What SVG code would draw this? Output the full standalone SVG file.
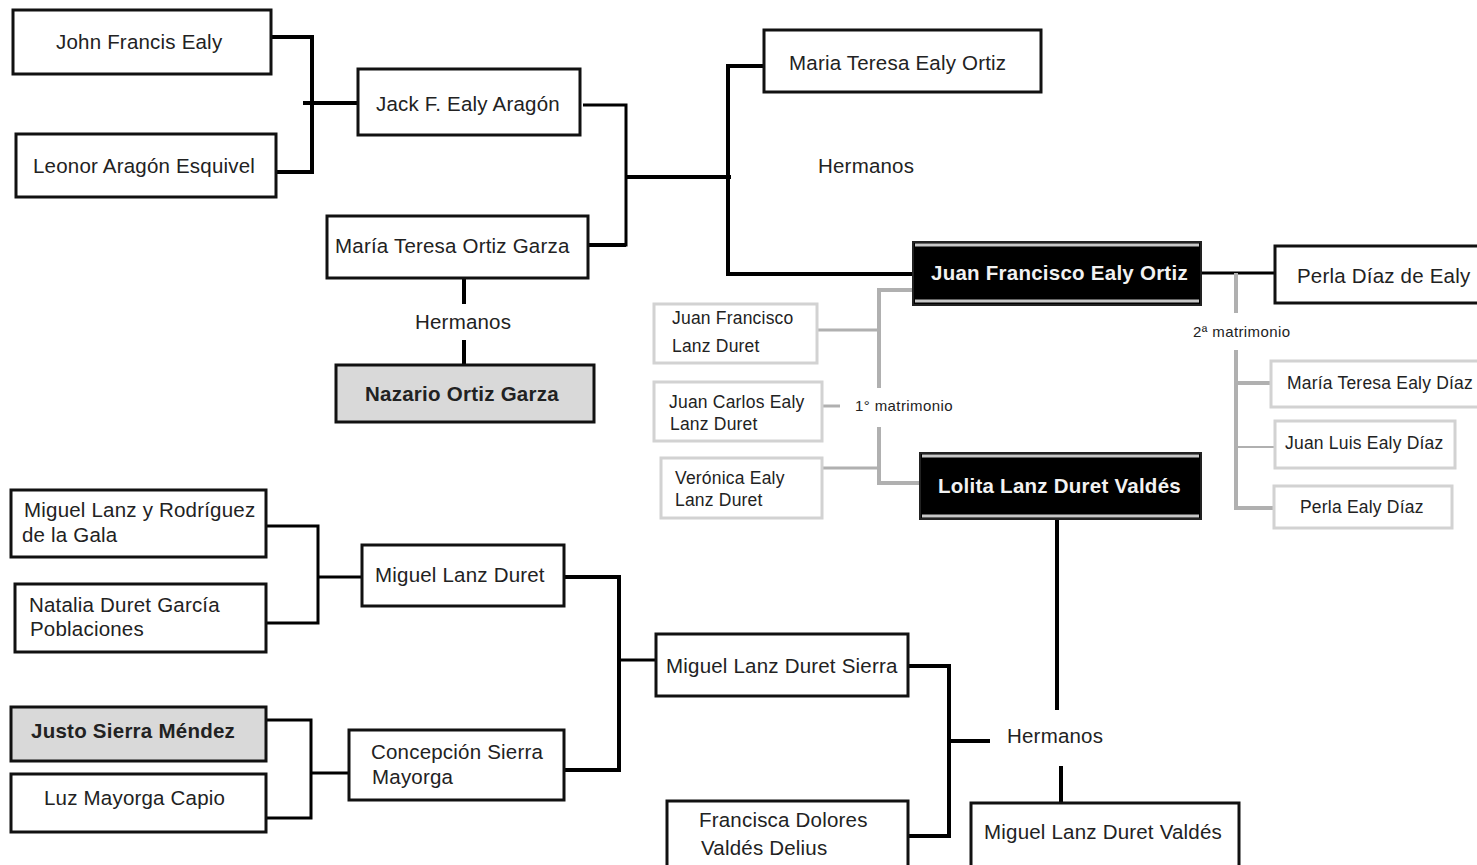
<svg xmlns="http://www.w3.org/2000/svg" width="1477" height="865" viewBox="0 0 1477 865">
<style>
.b{fill:#fff;stroke:#111;stroke-width:3}
.g{fill:#fff;stroke:#d2d2d2;stroke-width:3}
.s{fill:#d9d9d9;stroke:#111;stroke-width:3}
.k{fill:#000;stroke:#222;stroke-width:2}
.hl{stroke:#c8c8c8;stroke-width:3}
text{font-family:"Liberation Sans",Arial,sans-serif;fill:#222}
.t{font-size:20.5px;letter-spacing:0.2px}
.m{font-size:17.5px;letter-spacing:0.2px}
.sm{font-size:15px;letter-spacing:0.4px}
.bd{font-size:20.5px;font-weight:bold;letter-spacing:0.25px}
.w{font-size:20.5px;font-weight:bold;fill:#f2f2f2;letter-spacing:0.25px}
.c{fill:none;stroke:#000;stroke-width:3}
.c4{fill:none;stroke:#000;stroke-width:4}
.cg{fill:none;stroke:#b0b0b0;stroke-width:4}
.cg3{fill:none;stroke:#b0b0b0;stroke-width:3}
</style>
<g id="connectors">
<path class="c4" d="M271,37 H312 V172 H276"/>
<path class="c4" d="M303,103 H358"/>
<path class="c" d="M583,105 H626 V245 H588"/>
<path class="c4" d="M626,245 H588"/>
<path class="c4" d="M626,177 H731"/>
<path class="c4" d="M764,66 H728 V274 H912"/>
<path class="c" d="M1202,273 H1275"/>
<path class="c4" d="M464,278 V304 M464,340 V364"/>
<path class="c" d="M266,526 H318 V623 H266"/>
<path class="c" d="M318,577 H362"/>
<path class="c" d="M266,720 H311 V818 H266"/>
<path class="c" d="M311,773 H349"/>
<path class="c4" d="M564,577 H619 V770 H564"/>
<path class="c" d="M619,660 H656"/>
<path class="c4" d="M908,666 H949 V836 H908"/>
<path class="c4" d="M949,741 H990"/>
<path class="c4" d="M1057,520 V710 M1061,766 V802"/>
<path class="cg" d="M912,290 H879 V388"/>
<path class="cg" d="M879,427 V483 H919"/>
<path class="cg3" d="M817,330 H879"/>
<path class="cg3" d="M822,406 H840"/>
<path class="cg3" d="M822,468 H879"/>
<path class="cg" d="M1236,273 V313 M1236,350 V508 H1274"/>
<path class="cg" d="M1236,383 H1271"/>
<path class="cg3" d="M1236,447 H1275" style="stroke-width:2"/>
</g>
<g id="n-john"><rect class="b" x="13" y="10" width="258" height="64"/><text class="t" x="56" y="49">John Francis Ealy</text></g>
<g id="n-leonor"><rect class="b" x="16" y="134" width="260" height="63"/><text class="t" x="33" y="173">Leonor Aragón Esquivel</text></g>
<g id="n-jack"><rect class="b" x="358" y="69" width="222" height="66"/><text class="t" x="376" y="111">Jack F. Ealy Aragón</text></g>
<g id="n-mtog"><rect class="b" x="327" y="216" width="261" height="62"/><text class="t" x="335" y="253">María Teresa Ortiz Garza</text></g>
<g id="n-mteo"><rect class="b" x="764" y="30" width="277" height="62"/><text class="t" x="789" y="70">Maria Teresa Ealy Ortiz</text></g>
<g id="l-herm1"><text class="t" x="818" y="173">Hermanos</text></g>
<g id="n-jfeo"><rect class="k" x="913" y="242" width="288" height="63"/><line class="hl" x1="915" y1="245" x2="1199" y2="245"/><line class="hl" x1="915" y1="301" x2="1199" y2="301"/><text class="w" x="931" y="280">Juan Francisco Ealy Ortiz</text></g>
<g id="n-perla"><rect class="b" x="1275" y="246" width="210" height="57"/><text class="t" x="1297" y="283">Perla Díaz de Ealy</text></g>
<g id="l-2mat"><text class="sm" x="1193" y="337">2ª matrimonio</text></g>
<g id="n-mted"><rect class="g" x="1271" y="361" width="212" height="46"/><text class="m" x="1287" y="389">María Teresa Ealy Díaz</text></g>
<g id="n-jled"><rect class="g" x="1275" y="421" width="180" height="47"/><text class="m" x="1285" y="449">Juan Luis Ealy Díaz</text></g>
<g id="n-ped"><rect class="g" x="1274" y="486" width="178" height="42"/><text class="m" x="1300" y="513">Perla Ealy Díaz</text></g>
<g id="n-jfld"><rect class="g" x="654" y="304" width="163" height="59"/><text class="m" x="672" y="324">Juan Francisco</text><text class="m" x="672" y="352">Lanz Duret</text></g>
<g id="n-jceld"><rect class="g" x="654" y="382" width="168" height="59"/><text class="m" x="669" y="408">Juan Carlos Ealy</text><text class="m" x="670" y="430">Lanz Duret</text></g>
<g id="n-veld"><rect class="g" x="661" y="458" width="161" height="60"/><text class="m" x="675" y="484">Verónica Ealy</text><text class="m" x="675" y="506">Lanz Duret</text></g>
<g id="l-1mat"><text class="sm" x="855" y="411">1° matrimonio</text></g>
<g id="n-lolita"><rect class="k" x="920" y="453" width="281" height="66"/><line class="hl" x1="922" y1="456" x2="1199" y2="456"/><line class="hl" x1="922" y1="516" x2="1199" y2="516"/><text class="w" x="938" y="493">Lolita Lanz Duret Valdés</text></g>
<g id="l-herm2"><text class="t" x="415" y="329">Hermanos</text></g>
<g id="n-nazario"><rect class="s" x="336" y="365" width="258" height="57"/><text class="bd" x="365" y="401">Nazario Ortiz Garza</text></g>
<g id="n-mlrg"><rect class="b" x="11" y="490" width="255" height="67"/><text class="t" x="24" y="517">Miguel Lanz y Rodríguez</text><text class="t" x="22" y="542">de la Gala</text></g>
<g id="n-ndgp"><rect class="b" x="15" y="584" width="251" height="68"/><text class="t" x="29" y="612">Natalia Duret García</text><text class="t" x="30" y="636">Poblaciones</text></g>
<g id="n-mld"><rect class="b" x="362" y="545" width="202" height="61"/><text class="t" x="375" y="582">Miguel Lanz Duret</text></g>
<g id="n-jsm"><rect class="s" x="11" y="707" width="255" height="54"/><text class="bd" x="31" y="738">Justo Sierra Méndez</text></g>
<g id="n-lmc"><rect class="b" x="11" y="774" width="255" height="58"/><text class="t" x="44" y="805">Luz Mayorga Capio</text></g>
<g id="n-csm"><rect class="b" x="349" y="730" width="215" height="70"/><text class="t" x="371" y="759">Concepción Sierra</text><text class="t" x="372" y="784">Mayorga</text></g>
<g id="n-mlds"><rect class="b" x="656" y="634" width="252" height="62"/><text class="t" x="666" y="673">Miguel Lanz Duret Sierra</text></g>
<g id="l-herm3"><text class="t" x="1007" y="743">Hermanos</text></g>
<g id="n-fdvd"><rect class="b" x="667" y="801" width="241" height="70"/><text class="t" x="699" y="827">Francisca Dolores</text><text class="t" x="701" y="855">Valdés Delius</text></g>
<g id="n-mldv"><rect class="b" x="971" y="803" width="268" height="68"/><text class="t" x="984" y="839">Miguel Lanz Duret Valdés</text></g>
</svg>
